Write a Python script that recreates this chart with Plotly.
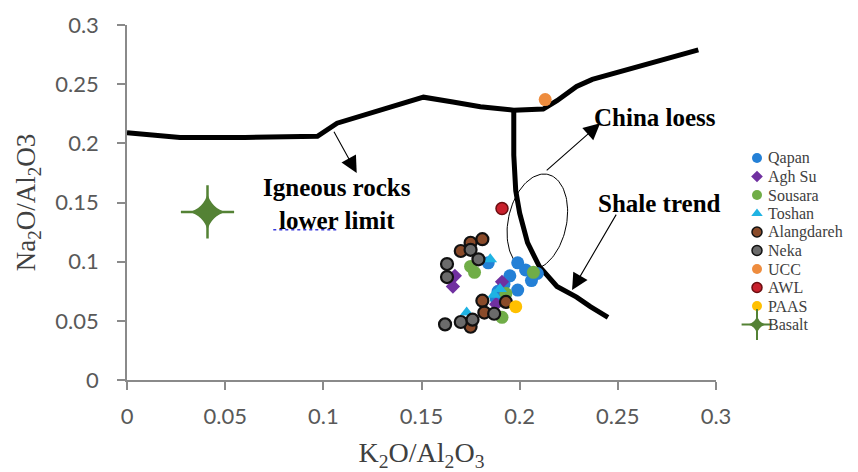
import numpy as np
import plotly.graph_objects as go

# ---------------- data ----------------
qapan_x = [0.199, 0.203, 0.195, 0.206, 0.199, 0.192, 0.189, 0.188, 0.184, 0.209]
qapan_y = [0.099, 0.093, 0.088, 0.084, 0.076, 0.081, 0.075, 0.069, 0.099, 0.090]

aghsu_x = [0.167, 0.166, 0.191, 0.188]
aghsu_y = [0.088, 0.079, 0.083, 0.064]

sousara_x = [0.175, 0.177, 0.193, 0.191, 0.207]
sousara_y = [0.096, 0.091, 0.073, 0.053, 0.091]

toshan_x = [0.185, 0.173, 0.187, 0.190]
toshan_y = [0.102, 0.057, 0.072, 0.077]

alang_x = [0.181, 0.175, 0.170, 0.181, 0.182, 0.175, 0.193]
alang_y = [0.119, 0.116, 0.109, 0.067, 0.057, 0.045, 0.066]

neka_x = [0.175, 0.179, 0.163, 0.163, 0.162, 0.170, 0.176, 0.187]
neka_y = [0.110, 0.102, 0.098, 0.087, 0.047, 0.049, 0.051, 0.056]

ucc_x, ucc_y = [0.213], [0.237]
awl_x, awl_y = [0.191], [0.145]
paas_x, paas_y = [0.198], [0.062]
basalt_x, basalt_y = [0.041], [0.142]

# Igneous rocks lower limit (thick boundary line)
igneous_x = [0.0, 0.027, 0.060, 0.097, 0.107, 0.130, 0.151, 0.166, 0.180, 0.197,
             0.212, 0.219, 0.229, 0.237, 0.248, 0.255, 0.280, 0.291]
igneous_y = [0.209, 0.205, 0.205, 0.206, 0.217, 0.228, 0.239, 0.235, 0.231, 0.228,
             0.229, 0.236, 0.248, 0.254, 0.259, 0.263, 0.274, 0.279]

# Shale trend branch
shale_x = [0.197, 0.197, 0.198, 0.200, 0.204, 0.210, 0.219, 0.229, 0.236, 0.245]
shale_y = [0.228, 0.190, 0.160, 0.141, 0.116, 0.096, 0.079, 0.070, 0.062, 0.053]

x_ticks = [0, 0.05, 0.1, 0.15, 0.2, 0.25, 0.3]
x_tick_labels = ["0", "0.05", "0.1", "0.15", "0.2", "0.25", "0.3"]
y_ticks = [0, 0.05, 0.1, 0.15, 0.2, 0.25, 0.3]
y_tick_labels = ["0", "0.05", "0.1", "0.15", "0.2", "0.25", "0.3"]

legend_names = ["Qapan", "Agh Su", "Sousara", "Toshan", "Alangdareh", "Neka",
                "UCC", "AWL", "PAAS", "Basalt"]

# China loess field (ellipse) parameters
loess_center = (0.209, 0.1335)

# ---------------- figure geometry ----------------
W, H = 858, 472
ML, MT, MB = 127, 25, 92
PLOT_RIGHT = 716
pw, ph = PLOT_RIGHT - ML, H - MT - MB
area_w = W - ML
LEG_LEFT = 740

fig = go.Figure()

fig.add_trace(go.Scatter(x=igneous_x, y=igneous_y, mode="lines",
                         line=dict(color="black", width=5), showlegend=False,
                         hoverinfo="skip"))
fig.add_trace(go.Scatter(x=shale_x, y=shale_y, mode="lines",
                         line=dict(color="black", width=5), showlegend=False,
                         hoverinfo="skip"))

# ellipse (thin outline) built in pixel space then mapped to data
sx, sy = pw / 0.3, ph / 0.3
cxp, cyp = loess_center[0] * sx, loess_center[1] * sy
a_px, b_px = 48.6, 29.0
ux, uy = 21 / 97.0, 95 / 97.0        # major axis direction (data-up)
vx, vy = uy, -ux
t = np.linspace(0, 2 * np.pi, 120)
ex = (cxp + a_px * np.cos(t) * ux + b_px * np.sin(t) * vx) / sx
ey = (cyp + a_px * np.cos(t) * uy + b_px * np.sin(t) * vy) / sy
fig.add_trace(go.Scatter(x=ex, y=ey, mode="lines", line=dict(color="black", width=1),
                         showlegend=False, hoverinfo="skip"))

ring = dict(color="#111111", width=2.2)
GREEN_B = "#548235"
series = [
    ("Qapan", qapan_x, qapan_y, dict(color="#2480d6", size=13, symbol="circle")),
    ("Agh Su", aghsu_x, aghsu_y, dict(color="#7030a0", size=11, symbol="diamond")),
    ("Sousara", sousara_x, sousara_y, dict(color="#70ad47", size=13, symbol="circle")),
    ("Toshan", toshan_x, toshan_y, dict(color="#1fb3e3", size=12, symbol="triangle-up")),
    ("Alangdareh", alang_x, alang_y, dict(color="#8a4b2a", size=12, symbol="circle", line=ring)),
    ("Neka", neka_x, neka_y, dict(color="#6b6b6b", size=12, symbol="circle", line=ring)),
    ("UCC", ucc_x, ucc_y, dict(color="#ee8c3e", size=13, symbol="circle")),
    ("AWL", awl_x, awl_y, dict(color="#c8202c", size=12, symbol="circle",
                               line=dict(color="#6a0d10", width=1.5))),
    ("PAAS", paas_x, paas_y, dict(color="#ffc000", size=13, symbol="circle")),
    ("Basalt", basalt_x, basalt_y, dict(color=GREEN_B, size=26, symbol="star-diamond")),
]
for name, xs, ys, mk in series:
    fig.add_trace(go.Scatter(x=xs, y=ys, mode="markers", marker=mk, showlegend=False,
                             hovertemplate=name + ": %{x}, %{y}<extra></extra>"))
# thin sparkle arms of the basalt star
fig.add_trace(go.Scatter(x=basalt_x, y=basalt_y, mode="markers", showlegend=False,
                         hoverinfo="skip",
                         marker=dict(symbol="cross-thin", size=38,
                                     line=dict(color=GREEN_B, width=2.5))))

# ---------------- manual legend (overlay axes in the right margin) ----------------
LEG_TOP, LEG_STEP, LEG_MX, LEG_TX = 158, 18.5, 757, 766
leg_y = [LEG_TOP + i * LEG_STEP for i in range(len(legend_names))]
for i, (name, xs, ys, mk) in enumerate(series):
    lm = dict(mk)
    lm["size"] = 10 if name not in ("Basalt", "Agh Su") else (13 if name == "Basalt" else 9)
    if "line" in lm:
        lm["line"] = dict(color=lm["line"]["color"], width=1.5)
    fig.add_trace(go.Scatter(x=[LEG_MX], y=[leg_y[i]], mode="markers", marker=lm,
                             xaxis="x2", yaxis="y2", showlegend=False, hoverinfo="skip"))
fig.add_trace(go.Scatter(x=[LEG_MX], y=[leg_y[-1]], mode="markers", xaxis="x2", yaxis="y2",
                         showlegend=False, hoverinfo="skip",
                         marker=dict(symbol="cross-thin", size=22,
                                     line=dict(color=GREEN_B, width=2))))

leg_font = dict(family="Liberation Serif, Times New Roman, serif", size=16, color="#404040")
annotations = []
for i, name in enumerate(legend_names):
    annotations.append(dict(x=LEG_TX, y=leg_y[i], xref="x2", yref="y2", text=name,
                            showarrow=False, xanchor="left", yanchor="middle",
                            font=leg_font))

tick_font = dict(family="Lato, Open Sans, sans-serif", size=22, color="#595959")
title_font = dict(family="Liberation Serif, Times New Roman, serif", size=28, color="#404040")

fig.update_layout(
    xaxis=dict(domain=[0, pw / area_w], range=[0, 0.3], tickvals=x_ticks,
               ticktext=x_tick_labels, showgrid=False, zeroline=False, showline=True,
               linecolor="#8a8a8a", linewidth=1.5, ticks="outside", ticklen=8,
               tickcolor="#8a8a8a", tickwidth=1.5, tickfont=tick_font, ticklabelstandoff=8,
               title=dict(text="K<sub>2</sub>O/Al<sub>2</sub>O<sub>3</sub>",
                          font=title_font, standoff=16),
               automargin=False),
    yaxis=dict(range=[0, 0.3], tickvals=y_ticks, ticktext=y_tick_labels,
               showgrid=False, zeroline=False, showline=True, linecolor="#8a8a8a",
               linewidth=1.5, ticks="outside", ticklen=8, tickcolor="#8a8a8a",
               tickwidth=1.5, tickfont=tick_font, ticklabelstandoff=14,
               title=dict(text="Na<sub>2</sub>O/Al<sub>2</sub>O3",
                          font=dict(family=title_font["family"], size=27, color="#404040"),
                          standoff=12),
               automargin=False),
    xaxis2=dict(domain=[(LEG_LEFT - ML) / area_w, 1], range=[LEG_LEFT, W], visible=False,
                anchor="y2", fixedrange=True),
    yaxis2=dict(domain=[0, 1], range=[H - MB, MT], visible=False, anchor="x2",
                fixedrange=True),
)

ann_font = dict(family="Liberation Serif, Times New Roman, serif", size=25,
                color="black", weight="bold")
annotations += [
    dict(x=0.107, y=0.149, text="Igneous rocks<br>lower limit", showarrow=False,
         font=ann_font, xanchor="center", yanchor="middle"),
    dict(x=0.269, y=0.2215, text="China loess", showarrow=False, font=ann_font,
         xanchor="center", yanchor="middle"),
    dict(x=0.271, y=0.149, text="Shale trend", showarrow=False, font=ann_font,
         xanchor="center", yanchor="middle"),
    # arrows
    dict(x=0.117, y=0.175, ax=0.105, ay=0.211, axref="x", ayref="y", text="",
         showarrow=True, arrowhead=2, arrowsize=3, arrowwidth=1.1, arrowcolor="black"),
    dict(x=0.241, y=0.217, ax=0.213, ay=0.176, axref="x", ayref="y", text="",
         showarrow=True, arrowhead=2, arrowsize=3, arrowwidth=1.1, arrowcolor="black"),
    dict(x=0.2267, y=0.076, ax=0.2496, ay=0.141, axref="x", ayref="y", text="",
         showarrow=True, arrowhead=2, arrowsize=3, arrowwidth=1.1, arrowcolor="black"),
]

# spell-check squiggle under "lower"
shapes = [dict(type="line", xref="x", yref="y", x0=0.0745, x1=0.1075, y0=0.127, y1=0.127,
               line=dict(color="#3a3adc", width=1.5, dash="dot"))]

fig.update_layout(
    width=W, height=H,
    margin=dict(l=ML, r=0, t=MT, b=MB, autoexpand=False),
    paper_bgcolor="white", plot_bgcolor="white",
    annotations=annotations, shapes=shapes,
    showlegend=False,
)

fig.write_html("out.html")
